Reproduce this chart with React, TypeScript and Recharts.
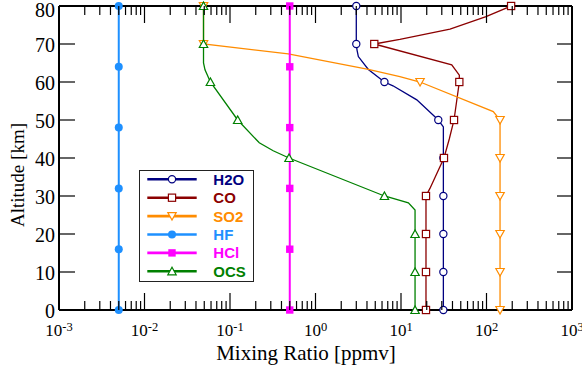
import React from 'react';
import { ScatterChart, Scatter, XAxis, YAxis, Legend } from 'recharts';

// marker altitudes (km)
const MARKS_10 = [0, 10, 20, 30, 40, 50, 60, 70, 80];
const MARKS_16 = [0, 16, 32, 48, 64, 80];

// profiles: altitude (km) and mixing ratio (ppmv)
const ALT_H2O = [80, 70, 68.4, 66.7, 63.3, 60, 59, 55.3, 51.3, 50, 48.2, 40, 30, 20, 10, 0];
const VAL_H2O = [3.0, 3.0, 3.06, 3.17, 4.15, 6.4, 8.05, 15.3, 23.7, 27.3, 31.3, 31.3, 31.3, 31.3, 31.3, 31.3];

const ALT_CO = [80, 77.2, 73.9, 71.2, 70, 64.5, 61.8, 60, 50, 45, 40, 32, 30, 20, 10, 0];
const VAL_CO = [194, 98.7, 37.4, 9.7, 4.87, 39.2, 48.1, 48.1, 41.7, 36.7, 31.8, 21.8, 19.6, 19.6, 19.6, 19.6];

const ALT_SO2 = [80, 70, 67.4, 63.3, 61.4, 60, 52.2, 50, 40, 30, 20, 10, 0];
const VAL_SO2 = [0.049, 0.049, 0.48, 4.15, 9.7, 16.7, 120, 144, 144, 144, 144, 144, 144];

const ALT_HF = [80, 64, 48, 32, 16, 0];
const VAL_HF = [0.005, 0.005, 0.005, 0.005, 0.005, 0.005];

const ALT_HCL = [80, 64, 48, 32, 16, 0];
const VAL_HCL = [0.5, 0.5, 0.5, 0.5, 0.5, 0.5];

const ALT_OCS = [80, 70, 65, 63.2, 60, 50, 44, 41.9, 40, 30, 28.2, 26.3, 20, 10, 0];
const VAL_OCS = [0.049, 0.049, 0.049, 0.051, 0.059, 0.123, 0.22, 0.32, 0.49, 6.4, 12.2, 14.6, 14.6, 14.6, 14.6];

const Y_TICKS = [0, 10, 20, 30, 40, 50, 60, 70, 80];
const X_DECADES = [1e-3, 1e-2, 1e-1, 1, 10, 100, 1000];
const X_EXP = ['-3', '-2', '-1', '0', '1', '2', '3'];
const X_TICKS = X_DECADES.flatMap((d, i) =>
  i < X_DECADES.length - 1 ? [d, 2 * d, 3 * d, 4 * d, 5 * d, 6 * d, 7 * d, 8 * d, 9 * d] : [d]
);

const W = 582;
const H = 370;
const PLOT = { left: 59, top: 6, right: 572, bottom: 310 };
const SERIF = '"Liberation Serif", "Times New Roman", serif';
const SANS = '"Liberation Sans", Arial, sans-serif';

type MarkerKind = 'circleOpen' | 'squareOpen' | 'triDown' | 'circleFilled' | 'squareFilled' | 'triUp';

const SERIES: {
  name: string;
  color: string;
  marker: MarkerKind;
  width: number;
  alt: number[];
  val: number[];
  marks: number[];
}[] = [
  { name: 'H2O', color: '#000080', marker: 'circleOpen', width: 1.3, alt: ALT_H2O, val: VAL_H2O, marks: MARKS_10 },
  { name: 'CO', color: '#8B0000', marker: 'squareOpen', width: 1.3, alt: ALT_CO, val: VAL_CO, marks: MARKS_10 },
  { name: 'SO2', color: '#FF8C00', marker: 'triDown', width: 1.3, alt: ALT_SO2, val: VAL_SO2, marks: MARKS_10 },
  { name: 'HF', color: '#1E90FF', marker: 'circleFilled', width: 2, alt: ALT_HF, val: VAL_HF, marks: MARKS_16 },
  { name: 'HCl', color: '#FF00FF', marker: 'squareFilled', width: 2, alt: ALT_HCL, val: VAL_HCL, marks: MARKS_16 },
  { name: 'OCS', color: '#008000', marker: 'triUp', width: 1.3, alt: ALT_OCS, val: VAL_OCS, marks: MARKS_10 },
];

function Marker({ kind, color, cx, cy }: { kind: MarkerKind; color: string; cx: number; cy: number }) {
  const sw = 1.2;
  switch (kind) {
    case 'circleOpen':
      return <circle cx={cx} cy={cy} r={3.6} fill="#fff" stroke={color} strokeWidth={sw} />;
    case 'squareOpen':
      return <rect x={cx - 3.6} y={cy - 3.6} width={7.2} height={7.2} fill="#fff" stroke={color} strokeWidth={sw} />;
    case 'triDown':
      return (
        <polygon
          points={`${cx - 4.2},${cy - 3.5} ${cx + 4.2},${cy - 3.5} ${cx},${cy + 4}`}
          fill="#fff"
          stroke={color}
          strokeWidth={sw}
        />
      );
    case 'triUp':
      return (
        <polygon
          points={`${cx - 4.2},${cy + 3.5} ${cx + 4.2},${cy + 3.5} ${cx},${cy - 4}`}
          fill="#fff"
          stroke={color}
          strokeWidth={sw}
        />
      );
    case 'circleFilled':
      return <circle cx={cx} cy={cy} r={4} fill={color} />;
    case 'squareFilled':
      return <rect x={cx - 3.7} y={cy - 3.7} width={7.4} height={7.4} fill={color} />;
  }
  return null;
}

// bottom axis tick: inward ticks on bottom and top edges + decade label
function XTick(props: any) {
  const { x, payload } = props;
  const i = X_DECADES.indexOf(payload.value);
  const major = i >= 0;
  const len = major ? 17 : 9;
  return (
    <g>
      <line x1={x} x2={x} y1={PLOT.bottom} y2={PLOT.bottom - len} stroke="#000" strokeWidth={1.2} />
      <line x1={x} x2={x} y1={PLOT.top} y2={PLOT.top + len} stroke="#000" strokeWidth={1.2} />
      {major && (
        <text x={x} y={336} textAnchor="middle" fontFamily={SERIF} fontSize={17} fill="#000">
          <tspan>10</tspan>
          <tspan dy={-5} fontSize={12.5}>
            {X_EXP[i]}
          </tspan>
        </text>
      )}
    </g>
  );
}

// left axis tick: inward ticks on left and right edges + label
function YTick(props: any) {
  const { y, payload } = props;
  return (
    <g>
      <line x1={PLOT.left} x2={PLOT.left + 16} y1={y} y2={y} stroke="#000" strokeWidth={1.2} />
      <line x1={PLOT.right} x2={PLOT.right - 15} y1={y} y2={y} stroke="#000" strokeWidth={1.2} />
      <text x={55} y={Math.max(y + 7.5, 17)} textAnchor="end" fontFamily={SERIF} fontSize={20} fill="#000">
        {payload.value}
      </text>
    </g>
  );
}

function LegendBox() {
  const rowY = (i: number) => 8.3 + i * 18.4;
  return (
    <div
      style={{
        width: 115,
        height: 112,
        boxSizing: 'border-box',
        border: '1px solid #222',
        background: '#fff',
      }}
    >
      <svg width={113} height={110} style={{ display: 'block' }}>
        {SERIES.map((s, i) => (
          <g key={s.name}>
            <line x1={7.3} x2={56.7} y1={rowY(i)} y2={rowY(i)} stroke={s.color} strokeWidth={2.6} />
            <Marker kind={s.marker} color={s.color} cx={32} cy={rowY(i)} />
            <text x={73.3} y={rowY(i) + 5.4} fontFamily={SANS} fontWeight="bold" fontSize={15} fill={s.color}>
              {s.name}
            </text>
          </g>
        ))}
      </svg>
    </div>
  );
}

export default function App() {
  return (
    <div style={{ position: 'absolute', left: 0, top: 0, background: '#fff' }}>
      <ScatterChart width={W} height={H} margin={{ top: 0, right: 0, bottom: 0, left: 0 }}>
        <XAxis
          dataKey="x"
          type="number"
          scale="log"
          domain={[0.001, 1000]}
          allowDataOverflow
          ticks={X_TICKS}
          interval={0}
          height={60}
          tickSize={0}
          tickMargin={0}
          tickLine={false}
          axisLine={{ stroke: '#000', strokeWidth: 2 }}
          tick={<XTick />}
          label={{
            content: () => (
              <text x={306} y={360} textAnchor="middle" fontFamily={SERIF} fontSize={21} fill="#000">
                Mixing Ratio [ppmv]
              </text>
            ),
          }}
        />
        <XAxis
          xAxisId="top"
          orientation="top"
          type="number"
          scale="log"
          domain={[0.001, 1000]}
          allowDataOverflow
          height={6}
          tick={false}
          tickLine={false}
          axisLine={{ stroke: '#000', strokeWidth: 2 }}
        />
        <YAxis
          dataKey="alt"
          type="number"
          domain={[0, 80]}
          ticks={Y_TICKS}
          interval={0}
          width={59}
          tickSize={0}
          tickMargin={0}
          tickLine={false}
          axisLine={{ stroke: '#000', strokeWidth: 2 }}
          tick={<YTick />}
          label={{
            content: () => (
              <text
                x={0}
                y={0}
                transform="translate(24,175) rotate(-90)"
                textAnchor="middle"
                fontFamily={SERIF}
                fontSize={19}
                fill="#000"
              >
                Altitude [km]
              </text>
            ),
          }}
        />
        <YAxis
          yAxisId="right"
          orientation="right"
          type="number"
          domain={[0, 80]}
          width={10}
          tick={false}
          tickLine={false}
          axisLine={{ stroke: '#000', strokeWidth: 2 }}
        />
        {SERIES.map((s) => (
          <Scatter
            key={s.name}
            name={s.name}
            data={s.alt.map((a, i) => ({ x: s.val[i], alt: a, m: s.marks.includes(a) }))}
            line={{ stroke: s.color, strokeWidth: s.width }}
            lineType="joint"
            isAnimationActive={false}
            shape={(p: any) =>
              p.payload && p.payload.m ? <Marker kind={s.marker} color={s.color} cx={p.cx} cy={p.cy} /> : <g />
            }
          />
        ))}
        <Legend
          layout="vertical"
          align="center"
          verticalAlign="middle"
          content={() => <LegendBox />}
          wrapperStyle={{ left: 139, top: 170, width: 115, height: 112 }}
        />
      </ScatterChart>
    </div>
  );
}
